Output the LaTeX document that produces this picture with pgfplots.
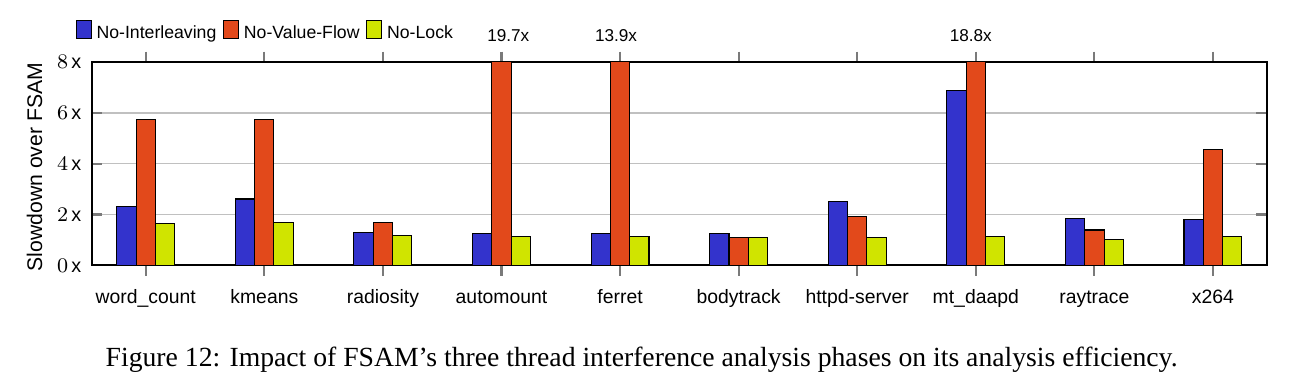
\documentclass[border=0pt]{standalone}
\usepackage{pgfplots}
\pgfplotsset{compat=1.18}
\usepackage{fontspec}
\setmainfont{Liberation Sans}
\newfontfamily\capfont{Liberation Serif}
\definecolor{cNI}{HTML}{3333CC}
\definecolor{cNVF}{HTML}{E2491B}
\definecolor{cNL}{HTML}{D0E400}
\definecolor{tickgray}{HTML}{7A7A7A}
\definecolor{gridgray}{HTML}{C0C0C0}
\begin{document}
\begin{tikzpicture}
\path[use as bounding box] (-35.4pt,-45.3pt) rectangle (467.7pt,102.05pt);
\begin{axis}[name=ax, at={(0,0)}, anchor=south west,
  scale only axis, width=451.8pt, height=78.2pt,
  xmin=-0.453, xmax=9.453, ymin=0, ymax=8,
  ybar, bar width=7.42pt,
  clip mode=individual,
  axis line style={line width=0.8pt},
  xtick={0,...,9},
  xticklabels={word\_count,kmeans,radiosity,automount,ferret,bodytrack,httpd-server,mt\_daapd,raytrace,x264},
  ytick={0,2,4,6,8},
  yticklabel={$\pgfmathprintnumber{\tick}$\,x},
  xtick align=outside, ytick align=inside,
  major tick length=4pt,
  every tick/.style={tickgray, line width=0.85pt},
  ymajorgrids, grid style={gridgray, line width=0.6pt},
  xticklabel style={font=\fontsize{7.45}{9}\selectfont, anchor=base, yshift=-10.8pt},
  yticklabel style={font=\fontsize{7.6}{9}\selectfont, anchor=east, inner sep=0pt, xshift=-3.9pt},
  legend columns=3,
  legend cell align=left,
  legend image code/.code={\draw[#1, line width=0.4pt] (0pt,-1.6pt) rectangle (5.8pt,5.3pt);},
  legend style={at={(0,1)}, anchor=west, xshift=-6.27pt, yshift=11.8pt,
    draw=none, fill=none, inner sep=0pt, outer sep=0pt,
    font=\fontsize{6.8}{8}\selectfont,
    column sep=1.8pt,
    /tikz/every even column/.append style={column sep=2.6pt},
    nodes={inner sep=0pt}},
]
\addplot[fill=cNI, draw=black, line width=0.4pt, bar shift=-7.42pt] coordinates {
(0,2.31) (1,2.61) (2,1.31) (3,1.27) (4,1.27) (5,1.27) (6,2.53) (7,6.86) (8,1.86) (9,1.82)};
\addplot[fill=cNVF, draw=black, line width=0.4pt, bar shift=0pt] coordinates {
(0,5.74) (1,5.74) (2,1.69) (3,19.7) (4,13.9) (5,1.11) (6,1.93) (7,18.8) (8,1.39) (9,4.55)};
\addplot[fill=cNL, draw=black, line width=0.4pt, bar shift=7.42pt] coordinates {
(0,1.66) (1,1.70) (2,1.19) (3,1.15) (4,1.15) (5,1.11) (6,1.11) (7,1.15) (8,1.03) (9,1.15)};
\legend{No-Interleaving,No-Value-Flow,No-Lock}
\node[anchor=base, yshift=8.0pt, font=\fontsize{6.6}{8}\selectfont] at (axis cs:3.057,8) {19.7x};
\node[anchor=base, yshift=8.0pt, font=\fontsize{6.6}{8}\selectfont] at (axis cs:3.966,8) {13.9x};
\node[anchor=base, yshift=8.0pt, font=\fontsize{6.6}{8}\selectfont] at (axis cs:6.958,8) {18.8x};
\end{axis}
\node[rotate=90, anchor=base, font=\fontsize{8.15}{10}\selectfont] at ([xshift=-19.2pt,yshift=-1.3pt]ax.west) {Slowdown over FSAM};
\node[anchor=base, font=\capfont\fontsize{10.65}{12}\selectfont] at ([xshift=211.4pt,yshift=-38.8pt]ax.south west) {Figure 12: Impact of FSAM’s three thread interference analysis phases on its analysis efficiency.};
\end{tikzpicture}
\end{document}
